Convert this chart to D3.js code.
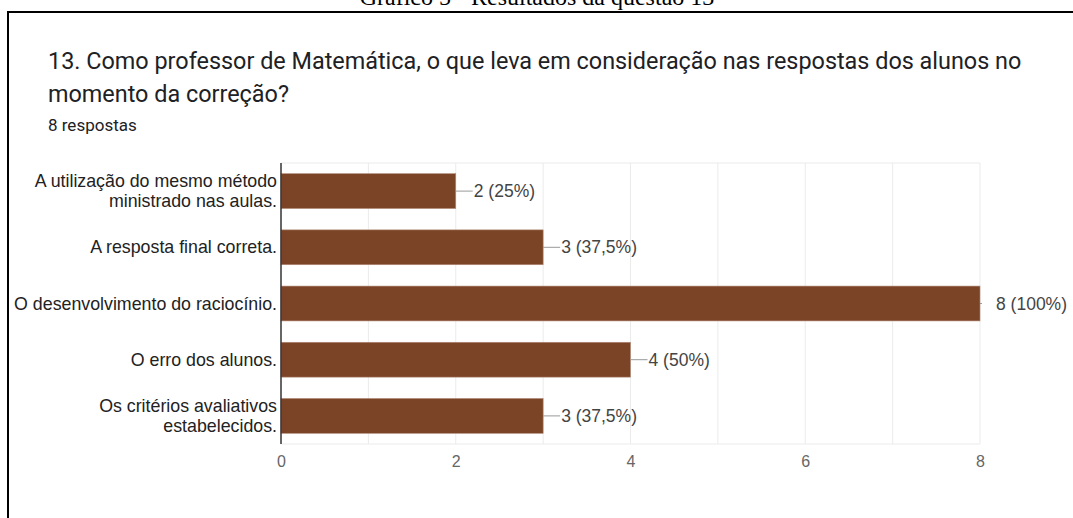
<!DOCTYPE html>
<html>
<head>
<meta charset="utf-8">
<script src="https://cdn.jsdelivr.net/npm/d3@7"></script>
<style>
  body { margin: 0; background: #fff; }
  svg { display: block; }
</style>
</head>
<body>
<svg id="chart" width="1073" height="518"></svg>
<script>
const categories = [
  ["A utilização do mesmo método", "ministrado nas aulas."],
  ["A resposta final correta."],
  ["O desenvolvimento do raciocínio."],
  ["O erro dos alunos."],
  ["Os critérios avaliativos", "estabelecidos."]
];
const counts = [2, 3, 8, 4, 3];
const valueLabels = ["2 (25%)", "3 (37,5%)", "8 (100%)", "4 (50%)", "3 (37,5%)"];
const xTicks = [0, 2, 4, 6, 8];
const caption = "Gráfico 5 - Resultados da questão 13";
const titleLines = [
  "13. Como professor de Matemática, o que leva em consideração nas respostas dos alunos no",
  "momento da correção?"
];
const subtitle = "8 respostas";

const svg = d3.select("#chart");
const margin = {left: 281, right: 93, top: 163, bottom: 74};
const width = 1073, height = 518;
const sans = "'Liberation Sans', Arial, sans-serif";

const x = d3.scaleLinear().domain([0, 8]).range([margin.left, width - margin.right]);
const y = d3.scaleBand().domain(d3.range(categories.length))
  .range([margin.top, height - margin.bottom]).paddingInner(0.38).paddingOuter(0.19);

// document caption, clipped at the top of the page
svg.append("text")
  .attr("x", 537).attr("y", 5)
  .attr("text-anchor", "middle")
  .style("font-family", "'Liberation Serif', 'Times New Roman', serif")
  .style("font-size", "24px")
  .text(caption);

// frame
svg.append("line").attr("x1", 8).attr("x2", width).attr("y1", 12).attr("y2", 12)
  .attr("stroke", "#000").attr("stroke-width", 2);
svg.append("line").attr("x1", 8).attr("x2", 8).attr("y1", 11).attr("y2", height)
  .attr("stroke", "#000").attr("stroke-width", 2);

// title
const title = svg.append("g").style("font-family", "Roboto, sans-serif").attr("fill", "#202124");
title.selectAll("text.t").data(titleLines).enter().append("text")
  .attr("class", "t")
  .attr("x", 48).attr("y", (d, i) => 69 + i * 33)
  .style("font-size", "23.4px")
  .text(d => d);
title.append("text").attr("x", 48).attr("y", 131)
  .style("font-size", "17px")
  .text(subtitle);

// grid
const grid = svg.append("g");
grid.selectAll("line").data(d3.range(1, 9)).enter().append("line")
  .attr("x1", d => x(d)).attr("x2", d => x(d))
  .attr("y1", margin.top).attr("y2", height - margin.bottom)
  .attr("stroke", "#ebebeb");
grid.append("line").attr("x1", margin.left).attr("x2", x(8))
  .attr("y1", margin.top).attr("y2", margin.top).attr("stroke", "#ebebeb");
grid.append("line").attr("x1", margin.left).attr("x2", x(8))
  .attr("y1", height - margin.bottom).attr("y2", height - margin.bottom).attr("stroke", "#ebebeb");

// bars
svg.append("g").selectAll("rect").data(counts).enter().append("rect")
  .attr("x", x(0))
  .attr("y", (d, i) => y(i))
  .attr("width", d => x(d) - x(0))
  .attr("height", y.bandwidth())
  .attr("fill", "#7c4426")
  .attr("stroke", "#b08a76").attr("stroke-width", 0.6);

// baseline axis
svg.append("line").attr("x1", x(0)).attr("x2", x(0))
  .attr("y1", margin.top).attr("y2", height - margin.bottom)
  .attr("stroke", "#333").attr("stroke-width", 1.5);

// value annotations
const ann = svg.append("g").style("font-family", sans).style("font-size", "17.5px");
counts.forEach((d, i) => {
  const cy = y(i) + y.bandwidth() / 2;
  const stem = d === 8 ? 2 : 17;
  ann.append("line").attr("x1", x(d)).attr("x2", x(d) + stem)
    .attr("y1", cy).attr("y2", cy).attr("stroke", "#999");
  ann.append("text").attr("x", x(d) + (d === 8 ? 16 : 18)).attr("y", cy + 6)
    .attr("fill", "#444").text(valueLabels[i]);
});

// category labels
const cat = svg.append("g").style("font-family", sans)
  .style("font-size", "17.8px").attr("fill", "#222").attr("text-anchor", "end");
categories.forEach((lines, i) => {
  const cy = y(i) + y.bandwidth() / 2;
  lines.forEach((l, j) => {
    cat.append("text").attr("x", x(0) - 4)
      .attr("y", cy + 6 + (j - (lines.length - 1) / 2) * 20)
      .text(l);
  });
});

// x axis labels
const xAxis = svg.append("g")
  .attr("transform", `translate(0,${height - margin.bottom})`)
  .attr("font-family", sans).attr("font-size", 16)
  .call(d3.axisBottom(x).tickValues(xTicks).tickSize(0).tickPadding(12).tickFormat(d3.format("d")));
xAxis.select(".domain").remove();
xAxis.selectAll("text").attr("fill", "#666")
  .attr("font-family", sans).attr("font-size", 16);
</script>
</body>
</html>
